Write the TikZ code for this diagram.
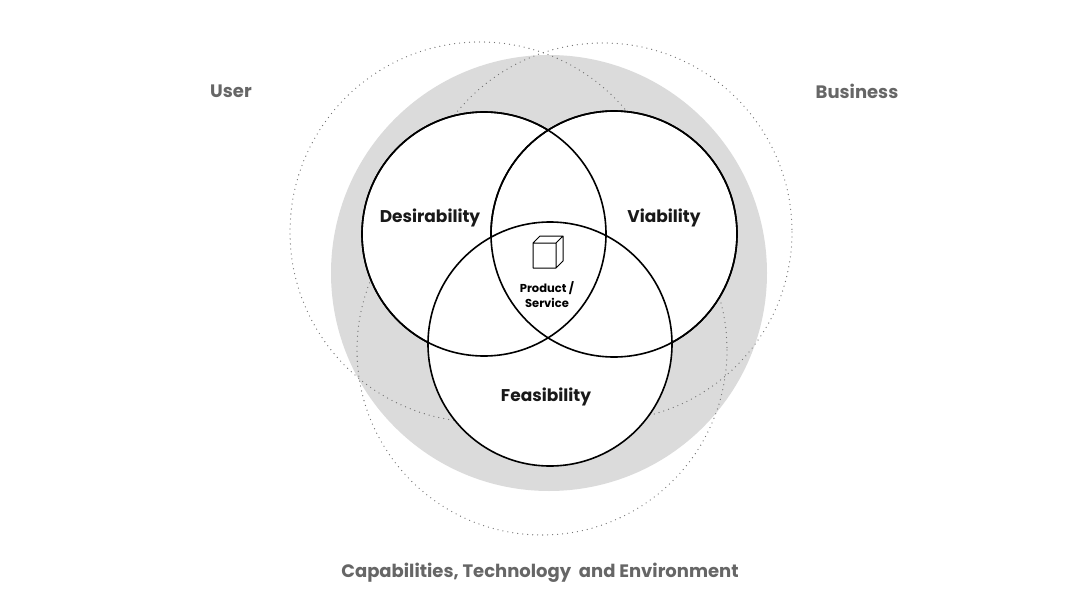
\documentclass[tikz,border=0pt]{standalone}
\usepackage{fontspec}
\setmainfont{Poppins}
\begin{document}
\begin{tikzpicture}[x=1pt,y=-1pt,
  dotc/.style={draw=black!55,line width=1.3pt,dash pattern=on 0pt off 5pt,line cap=round},
  venn/.style={draw=black,line width=1.6pt,fill=white},
  lab/.style={font=\bfseries\fontsize{18}{20}\selectfont,text=black!60},
  vlab/.style={font=\bfseries\fontsize{17}{20}\selectfont,text=black!90}]
\useasboundingbox (0,0) rectangle (1080,608);
\fill[black!14] (549,273) circle[radius=218];
\draw[dotc] (480,232) circle[radius=190];
\draw[dotc] (603,232) circle[radius=189];
\draw[dotc] (542,350) circle[radius=185];
\draw[venn] (484,234) circle[radius=122];
\draw[venn] (614,234) circle[radius=123];
\draw[venn] (550,344) circle[radius=122];
\draw[line width=1.6pt,fill=none] (484,234) circle[radius=122];
\draw[line width=1.6pt,fill=none] (614,234) circle[radius=123];
\node[vlab] (des) at (430,218) {Desirability};
\node[vlab] (via) at (664,218) {Viability};
\node[vlab] (fea) at (546,397) {Feasibility};
\node[font=\bfseries\fontsize{11.5}{15}\selectfont,align=center] (prod) at (547,295) {Product /\\Service};
\draw[line width=1pt,line join=round] (533,243) rectangle (556,268)
  (533,243) -- (540,236) -- (563,236) -- (556,243) (563,236) -- (563,261) -- (556,268);
\node[lab] (user) at (231,91) {User};
\node[lab] (bus) at (857,91) {Business};
\node[lab] (cap) at (540,573) {Capabilities, Technology\ \ and Environment};
\end{tikzpicture}
\end{document}
